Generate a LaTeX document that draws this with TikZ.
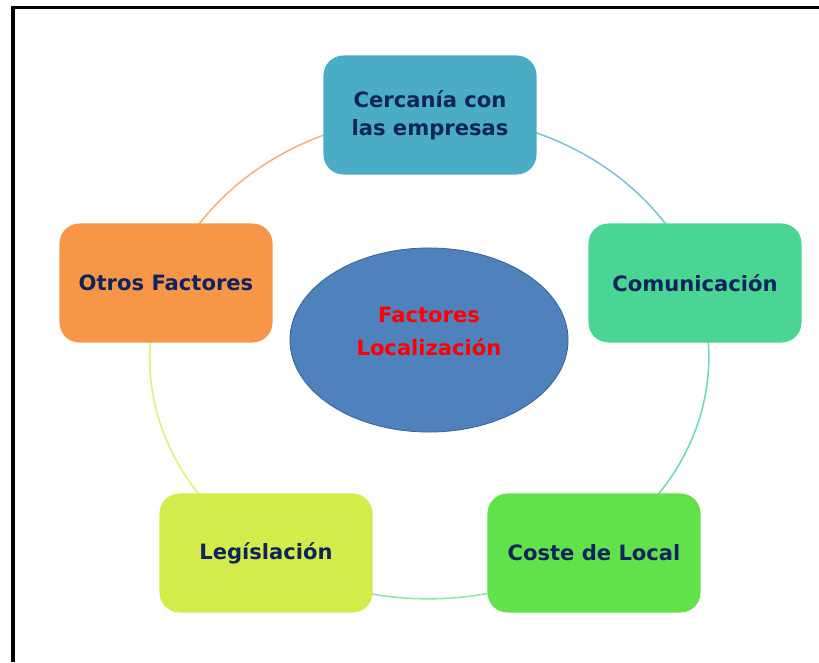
\documentclass[tikz,border=0pt]{standalone}
\usepackage{fontspec}
\setmainfont{DejaVu Sans}
\usetikzlibrary{shapes.geometric,backgrounds}

\definecolor{navytext}{HTML}{0F235C}
\definecolor{tealbox}{HTML}{4BACC6}
\definecolor{mintbox}{HTML}{4AD594}
\definecolor{greenbox}{HTML}{62E24A}
\definecolor{limebox}{HTML}{D4EC4A}
\definecolor{orangebox}{HTML}{F79646}
\definecolor{tealarc}{HTML}{7DC3D6}
\definecolor{mintarc}{HTML}{6FDCA8}
\definecolor{greenarc}{HTML}{8DE8A0}
\definecolor{limearc}{HTML}{DDF07A}
\definecolor{orangearc}{HTML}{F8B07A}
\definecolor{hubfill}{HTML}{4F81BD}
\definecolor{hubline}{HTML}{3A6496}

\begin{document}
\begin{tikzpicture}[x=0.025cm, y=-0.025cm,
  factor/.style={rounded corners=0.5cm, minimum width=5.325cm, minimum height=2.975cm,
    align=center, text=navytext, font=\bfseries\fontsize{15pt}{20pt}\selectfont},
  ring/.style={line width=1.1pt}]
  \useasboundingbox (0,0) rectangle (819,662);
  \draw[line width=2.5pt] (13,662) -- (13,7.5) -- (819,7.5);

  \node[ellipse, fill=hubfill, draw=hubline, line width=0.6pt, inner sep=0pt,
    minimum width=6.95cm, minimum height=4.6cm] (hub) at (429,340) {};
  \node[align=center, text=red, font=\bfseries\fontsize{15pt}{23.5pt}\selectfont]
    (hublabel) at (429,331) {Factores\\Localización};

  \node[factor, fill=tealbox] (cercania) at (430,115) {Cercanía con\\las empresas};
  \node[factor, fill=mintbox] (comunicacion) at (695,283) {Comunicación};
  \node[factor, fill=greenbox] (coste) at (594,553) {Coste de Local};
  \node[factor, fill=limebox] (legislacion) at (266,553) {Legíslación};
  \node[factor, fill=orangebox] (otros) at (166,283) {Otros Factores};

  \begin{scope}[on background layer]
    \draw[ring, tealarc] (cercania.center) arc[start angle=-90, end angle=-18, x radius=282, y radius=242];
    \draw[ring, mintarc] (comunicacion.center) arc[start angle=-18, end angle=54, x radius=282, y radius=240];
    \draw[ring, greenarc] (coste.center) arc[start angle=54, end angle=126, x radius=282, y radius=240];
    \draw[ring, limearc] (legislacion.center) arc[start angle=126, end angle=198, x radius=282, y radius=240];
    \draw[ring, orangearc] (otros.center) arc[start angle=198, end angle=270, x radius=282, y radius=242];
  \end{scope}
\end{tikzpicture}
\end{document}
